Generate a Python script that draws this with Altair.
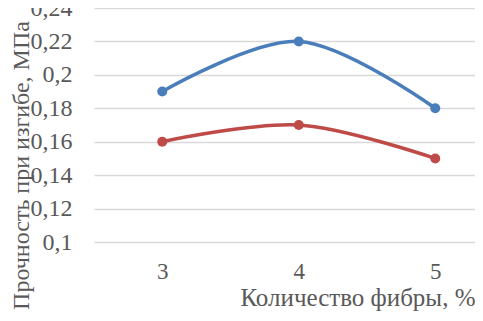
import altair as alt
import pandas as pd

fiber = [3, 4, 5]
series_a = [0.19, 0.22, 0.18]
series_b = [0.16, 0.17, 0.15]
series_names = ["Серия 1", "Серия 2"]
series_colors = ["#4A7EBB", "#BE4B48"]
y_ticks = [0.10, 0.12, 0.14, 0.16, 0.18, 0.20, 0.22, 0.24]

rows = []
for name, vals in zip(series_names, [series_a, series_b]):
    for f, v in zip(fiber, vals):
        rows.append({"fiber": f, "value": v, "series": name})
df = pd.DataFrame(rows)

FONT = "Liberation Serif"
STEP = 136.5
W = 381
H = 234

chart = alt.Chart(df).mark_line(
    interpolate="catmull-rom",
    strokeWidth=3.5,
    point=alt.OverlayMarkDef(size=100, filled=True, opacity=1),
).encode(
    x=alt.X(
        "fiber:Q",
        scale=alt.Scale(domain=[2.5, 2.5 + W / STEP], nice=False, zero=False),
        axis=alt.Axis(
            values=fiber,
            format="d",
            grid=False,
            domain=False,
            ticks=False,
            tickSize=0,
            labelPadding=18,
            labelFont=FONT,
            labelFontSize=23,
            labelColor="#595959",
            title="Количество фибры, %",
            titleFont=FONT,
            titleFontSize=25,
            titleFontWeight="normal",
            titleColor="#595959",
            titleAlign="right",
            titleBaseline="alphabetic",
            titleX=W,
            titleY=63,
        ),
    ),
    y=alt.Y(
        "value:Q",
        scale=alt.Scale(domain=[0.1, 0.24], nice=False, zero=False),
        axis=alt.Axis(
            values=y_ticks,
            labelExpr="replace(toString(round(datum.value*100)/100), '.', ',')",
            grid=True,
            gridColor="#D9D9D9",
            gridWidth=1.5,
            domain=False,
            ticks=False,
            tickSize=0,
            labelPadding=22,
            labelFont=FONT,
            labelFontSize=24,
            labelColor="#595959",
            title="Прочность при изгибе, МПа",
            titleFont=FONT,
            titleFontSize=24,
            titleFontWeight="normal",
            titleColor="#595959",
            titleAngle=-90,
            titleAlign="center",
            titleBaseline="alphabetic",
            titleX=-66,
            titleY=157,
        ),
    ),
    color=alt.Color(
        "series:N",
        scale=alt.Scale(domain=series_names, range=series_colors),
        legend=None,
    ),
).properties(
    width=W,
    height=H,
    autosize=alt.AutoSizeParams(type="none"),
    padding={"left": 86, "top": 0, "right": 0, "bottom": 79},
).configure_view(strokeWidth=0)

chart.save("out.html", embed_options={"renderer": "svg", "actions": False})
